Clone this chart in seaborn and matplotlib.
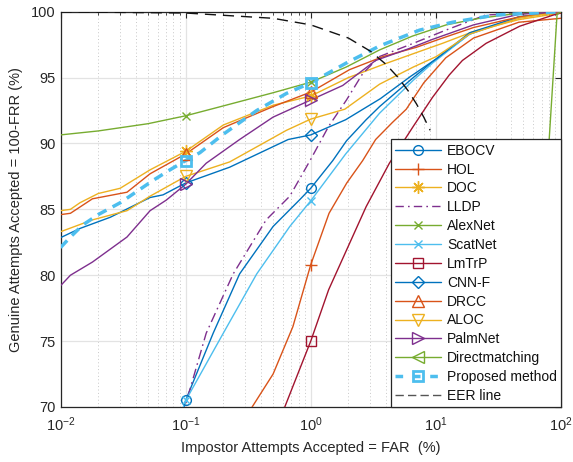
import numpy as np
import pandas as pd
import matplotlib
matplotlib.use("Agg")
import matplotlib.pyplot as plt
import seaborn as sns
from matplotlib.lines import Line2D
from matplotlib.ticker import LogLocator, LogFormatterSciNotation, FixedLocator, NullFormatter

# ---------------- data (FAR %, GAR %) ----------------
ebocv_x = [0.095, 0.1, 0.166, 0.27, 0.5, 0.81, 1, 1.5, 1.93, 2.77, 3.55, 6.6, 9.4, 18.6, 46, 100]
ebocv_y = [69.6, 70.5, 75.6, 80.1, 83.7, 85.7, 86.6, 88.7, 90.2, 91.8, 92.8, 95.0, 96.2, 98.3, 99.6, 100]

hol_x = [0.33, 0.34, 0.5, 0.72, 1, 1.4, 1.94, 2.6, 3.3, 4.5, 5.8, 8, 12, 20, 46, 100]
hol_y = [69.5, 70.0, 72.5, 76.1, 80.8, 84.7, 87.0, 88.7, 90.3, 91.6, 92.6, 94.6, 96.5, 98.0, 99.2, 99.5]

doc_x = [0.01, 0.012, 0.0143, 0.02, 0.03, 0.052, 0.1, 0.2, 0.5, 1, 2, 3.8, 7, 11.3, 20, 46, 100]
doc_y = [84.9, 85.0, 85.5, 86.2, 86.6, 88.0, 89.4, 91.4, 92.9, 93.6, 95.0, 96.0, 96.9, 97.6, 98.5, 99.4, 99.9]

lldp_x = [0.095, 0.1, 0.146, 0.24, 0.44, 0.68, 1, 1.39, 1.93, 2.6, 3.55, 6.6, 12, 25, 100]
lldp_y = [69.3, 70.2, 75.6, 80.1, 84.2, 86.0, 88.8, 91.3, 93.3, 95.3, 96.6, 97.6, 98.6, 99.75, 100]

alexnet_x = [0.01, 0.02, 0.05, 0.1, 0.2, 0.5, 1, 1.92, 3.55, 6.5, 12.1, 22.3, 40.8, 76, 100]
alexnet_y = [90.65, 90.95, 91.5, 92.1, 92.85, 93.85, 94.65, 95.8, 97.1, 98.15, 99.0, 99.5, 99.82, 99.97, 100]

scatnet_x = [0.095, 0.1, 0.108, 0.2, 0.37, 0.68, 1, 1.9, 3.55, 6.6, 9.4, 18.6, 46, 100]
scatnet_y = [69.9, 70.5, 71.05, 75.6, 80.1, 83.7, 85.65, 89.2, 92.3, 94.8, 96.1, 98.3, 99.6, 100]

lmtrp_x = [0.6, 0.62, 0.81, 1, 1.39, 1.93, 2.77, 4.25, 6.6, 9.4, 12.8, 16.3, 25.2, 46.8, 87, 100]
lmtrp_y = [69.5, 70.0, 72.8, 75.0, 78.9, 81.9, 85.2, 88.5, 91.3, 93.5, 95.2, 96.3, 97.6, 98.9, 99.75, 99.9]

cnnf_x = [0.01, 0.0143, 0.025, 0.052, 0.066, 0.1, 0.225, 0.66, 1, 1.9, 3.6, 6.3, 10, 18.6, 46, 100]
cnnf_y = [82.85, 83.55, 84.4, 85.9, 86.1, 87.0, 88.2, 90.3, 90.65, 91.8, 93.4, 95.1, 96.4, 98.4, 99.6, 100]

drcc_x = [0.01, 0.012, 0.018, 0.034, 0.052, 0.1, 0.2, 0.5, 1, 2.04, 3.8, 7, 11.3, 20, 46, 100]
drcc_y = [84.6, 84.7, 85.8, 86.3, 87.7, 89.2, 91.2, 92.8, 93.9, 95.6, 96.6, 97.3, 98.0, 98.8, 99.6, 100]

aloc_x = [0.01, 0.018, 0.034, 0.052, 0.1, 0.225, 0.64, 1, 1.87, 3.55, 6.6, 10.1, 18.6, 46, 100]
aloc_y = [83.3, 84.2, 84.9, 86.0, 87.5, 88.6, 91.0, 91.85, 92.6, 94.5, 95.8, 96.6, 98.3, 99.5, 100]

palmnet_x = [0.01, 0.012, 0.018, 0.034, 0.052, 0.07, 0.1, 0.146, 0.27, 0.5, 1, 1.8, 3.3, 6.1, 9.4, 20, 46, 100]
palmnet_y = [79.2, 80.0, 81.0, 82.9, 84.9, 85.7, 86.9, 88.5, 90.3, 92.0, 93.3, 94.4, 96.3, 97.2, 97.9, 99.0, 99.8, 100]

direct_x = [50, 58.5, 80.7, 93, 100]
direct_y = [60.0, 70.0, 90.5, 99.8, 100]

proposed_x = [0.01, 0.012, 0.015, 0.02, 0.03, 0.055, 0.075, 0.1, 0.13, 0.2, 0.37, 0.64, 1, 1.92, 3.55, 7.4, 13.6, 30, 100]
proposed_y = [82.1, 82.9, 83.8, 84.6, 85.5, 87.2, 88.0, 88.7, 89.3, 90.7, 92.5, 93.8, 94.6, 96.1, 97.4, 98.6, 99.2, 99.75, 100]

eer_x = [0.01, 0.1, 0.5, 1, 2, 3, 4, 5, 6, 7, 8, 9]
eer_y = [99.99, 99.9, 99.5, 99.0, 98.0, 97.0, 96.0, 95.0, 94.0, 93.0, 92.0, 91.0]

marker_far = [0.1, 1.0]

C_BLUE, C_ORANGE, C_YELLOW, C_PURPLE = "#0072BD", "#D95319", "#EDB120", "#7E2F8E"
C_GREEN, C_CYAN, C_RED = "#77AC30", "#4DBEEE", "#A2142F"

series = [
    ("EBOCV", ebocv_x, ebocv_y, C_BLUE, "-", "o", 1.0, 7),
    ("HOL", hol_x, hol_y, C_ORANGE, "-", "+", 1.0, 9),
    ("DOC", doc_x, doc_y, C_YELLOW, "-", (8, 2, 0), 1.0, 9),
    ("LLDP", lldp_x, lldp_y, C_PURPLE, "-.", None, 1.0, 7),
    ("AlexNet", alexnet_x, alexnet_y, C_GREEN, "-", "x", 1.0, 6),
    ("ScatNet", scatnet_x, scatnet_y, C_CYAN, "-", "x", 1.0, 6),
    ("LmTrP", lmtrp_x, lmtrp_y, C_RED, "-", "s", 1.0, 7),
    ("CNN-F", cnnf_x, cnnf_y, C_BLUE, "-", "D", 1.0, 6.5),
    ("DRCC", drcc_x, drcc_y, C_ORANGE, "-", "^", 1.0, 8),
    ("ALOC", aloc_x, aloc_y, C_YELLOW, "-", "v", 1.0, 8),
    ("PalmNet", palmnet_x, palmnet_y, C_PURPLE, "-", ">", 1.0, 8),
    ("Directmatching", direct_x, direct_y, C_GREEN, "-", "<", 1.0, 8),
    ("Proposed method", proposed_x, proposed_y, C_CYAN, "--", "s", 2.5, 7),
    ("EER line", eer_x, eer_y, "#000000", "--", None, 1.0, 7),
]

sns.set_theme(style="white")
plt.rcParams['font.family'] = ['Liberation Sans', 'DejaVu Sans']
plt.rcParams['mathtext.default'] = 'regular'

fig = plt.figure(figsize=(5.73, 4.62), dpi=100)
ax = fig.add_axes([60.5 / 573, 1 - 407 / 462, (561 - 60.5) / 573, (407 - 11.7) / 462])

handles = []
for name, xs, ys, col, ls, mk, lw, ms in series:
    df = pd.DataFrame({"FAR": xs, "GAR": ys})
    sns.lineplot(data=df, x="FAR", y="GAR", ax=ax, color=col, linewidth=lw,
                 estimator=None, sort=False, legend=False, zorder=3)
    line = ax.lines[-1]
    if name == "Proposed method":
        line.set_dashes((2.8, 2.0))
    elif name == "EER line":
        line.set_dashes((8, 5))
        line.set_color("#111111")
    elif ls == "-.":
        line.set_dashes((7, 3, 1.2, 3))
    mew = 2.0 if name == "Proposed method" else 1.0
    if mk is not None:
        sel = df[df["FAR"].isin(marker_far) & (df["GAR"] >= 70)]
        if len(sel):
            ax.plot(sel["FAR"], sel["GAR"], linestyle="none", marker=mk, ms=ms,
                    mfc="none", mec=col, mew=mew, zorder=4)
    h = Line2D([], [], color=col if name != "EER line" else "#555555", lw=lw,
               marker=mk if mk is not None else "", ms=ms, mfc="none", mec=col, mew=mew)
    if name == "Proposed method":
        h.set_dashes((2.2, 2.8))
    elif name == "EER line":
        h.set_dashes((6, 3))
    elif ls == "-.":
        h.set_dashes((6, 3, 1.2, 3))
    handles.append(h)

ax.set_xscale("log")
ax.set_xlim(0.01, 100)
ax.set_ylim(70, 100)
ax.xaxis.set_major_locator(LogLocator(base=10, numticks=10))
ax.xaxis.set_major_formatter(LogFormatterSciNotation())
ax.xaxis.set_minor_locator(LogLocator(base=10, subs=np.arange(2, 10), numticks=20))
ax.xaxis.set_minor_formatter(NullFormatter())
ax.yaxis.set_major_locator(FixedLocator([70, 75, 80, 85, 90, 95, 100]))

ax.grid(True, which="major", axis="both", color="#e3e3e3", lw=0.9, ls="-", zorder=0)
ax.grid(True, which="minor", axis="x", color="#c8c8c8", lw=0.7, ls=(0, (1, 2.5)), zorder=0)
ax.set_axisbelow(True)

for s in ax.spines.values():
    s.set_visible(True)
    s.set_color("#262626")
    s.set_linewidth(0.9)

ax.tick_params(axis="both", which="both", direction="in", top=True, right=True,
               colors="#262626", labelcolor="#262626", labelsize=10.5)
ax.tick_params(axis="both", which="major", length=4, width=0.8)
ax.tick_params(axis="x", which="minor", length=2.5, width=0.6)
ax.tick_params(axis="x", which="major", pad=6)

ax.set_xlabel("Impostor Attempts Accepted = FAR  (%)", fontsize=10.5, color="#262626", labelpad=5)
ax.set_ylabel("Genuine Attempts Accepted = 100-FRR (%)", fontsize=10.5, color="#262626", labelpad=6)

leg = ax.legend(handles, [s[0] for s in series], loc="lower right", bbox_to_anchor=(1.0, 0.0),
                borderaxespad=0.0, frameon=True, fancybox=False, framealpha=1.0,
                edgecolor="#262626", fontsize=10, handlelength=3.3, handletextpad=0.45,
                labelspacing=0.35, borderpad=0.3, numpoints=1)
leg.get_frame().set_linewidth(0.9)
leg.set_zorder(10)
for t in leg.get_texts():
    t.set_color("#111111")

fig.savefig("out.png", dpi=100)
